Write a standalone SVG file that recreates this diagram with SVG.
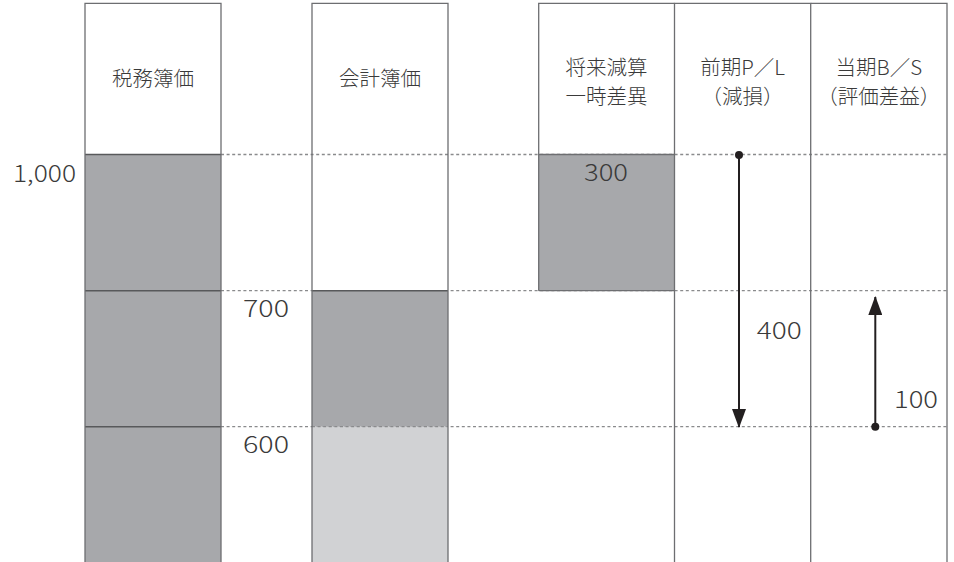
<svg xmlns="http://www.w3.org/2000/svg" width="954" height="562" viewBox="0 0 954 562">
<style>
.bg{fill:#ffffff}
.frame{fill:none;stroke:#6d6e71;stroke-width:1.3}
.sep{stroke:#58595b;stroke-width:1.5}
.dash{stroke:#8a8b8d;stroke-width:1.3;stroke-dasharray:3 2.6;fill:none}
.dark{fill:#a7a8ab}
.light{fill:#d1d2d4}
.hd{font-family:"Noto Sans CJK JP","Noto Sans",sans-serif;font-size:20.5px;font-weight:300;fill:#3a3a3a;text-anchor:middle}
.num{font-family:"Noto Sans CJK JP","Noto Sans",sans-serif;font-size:23px;font-weight:300;fill:#3a3a3a;text-anchor:end}
.arr{stroke:#231f20;stroke-width:2;fill:none}
.dot{fill:#231f20}
</style>
<defs>
<marker id="ah" markerWidth="19" markerHeight="14" refX="18" refY="7" orient="auto" markerUnits="userSpaceOnUse" viewBox="0 0 19 14">
<path d="M0,0 L19,7 L0,14 Z" fill="#231f20"/>
</marker>
</defs>
<rect class="bg" x="0" y="0" width="954" height="562"/>

<g id="guides">
<line class="dash" x1="221" y1="154.5" x2="947" y2="154.5"/>
<line class="dash" x1="221" y1="290.7" x2="947" y2="290.7"/>
<line class="dash" x1="221" y1="426.7" x2="947" y2="426.7"/>
</g>

<g id="tax-book-value">
<rect class="dark" x="85" y="154.5" width="136" height="410"/>
<line class="sep" x1="85" y1="154.5" x2="221" y2="154.5"/>
<line class="sep" x1="85" y1="290.7" x2="221" y2="290.7"/>
<line class="sep" x1="85" y1="426.7" x2="221" y2="426.7"/>
<path class="frame" d="M85,565 V3.3 H221 V565"/>
<text class="hd" x="153" y="86">税務簿価</text>
</g>

<g id="accounting-book-value">
<rect class="dark" x="312" y="290.7" width="136" height="136"/>
<rect class="light" x="312" y="426.7" width="136" height="140"/>
<line class="sep" x1="312" y1="290.7" x2="448" y2="290.7"/>
<line class="dash" x1="312" y1="426.7" x2="448" y2="426.7"/>
<path class="frame" d="M312,565 V3.3 H448 V565"/>
<text class="hd" x="380" y="86">会計簿価</text>
</g>

<g id="temp-difference">
<rect class="dark" x="538.7" y="154.5" width="135.8" height="136.2"/>
<path class="frame" d="M538.7,290.7 V3.3 H674.5 M538.7,154.5 H674.5 M538.7,290.7 H674.5"/>
<text class="hd" x="606.6" y="75">将来減算</text>
<text class="hd" x="606.6" y="103.5">一時差異</text>
</g>

<g id="prior-pl">
<path class="frame" d="M674.5,565 V3.3 H810.7 V565"/>
<text class="hd" x="742.6" y="75">前期P／L</text>
<text class="hd" x="742.6" y="103.5">（減損）</text>
</g>

<g id="current-bs">
<path class="frame" d="M810.7,3.3 H947 V565"/>
<text class="hd" x="878.8" y="75">当期B／S</text>
<text class="hd" x="878.8" y="103.5">（評価差益）</text>
</g>

<g id="labels">
<text class="num" x="76" y="181.5" textLength="63" lengthAdjust="spacingAndGlyphs">1,000</text>
<text class="num" x="289" y="316.7" textLength="46" lengthAdjust="spacingAndGlyphs">700</text>
<text class="num" x="289" y="452.7" textLength="46" lengthAdjust="spacingAndGlyphs">600</text>
<text class="num" x="628" y="181" textLength="44" lengthAdjust="spacingAndGlyphs">300</text>
<text class="num" x="801.7" y="339" textLength="45" lengthAdjust="spacingAndGlyphs">400</text>
<text class="num" x="938" y="408" textLength="44" lengthAdjust="spacingAndGlyphs">100</text>
</g>

<g id="connectors">
<circle class="dot" cx="739" cy="155" r="4"/>
<line class="arr" x1="739" y1="155" x2="739" y2="427" marker-end="url(#ah)"/>
<circle class="dot" cx="875.3" cy="426.7" r="4"/>
<line class="arr" x1="875.3" y1="426.7" x2="875.3" y2="297" marker-end="url(#ah)"/>
</g>
</svg>
